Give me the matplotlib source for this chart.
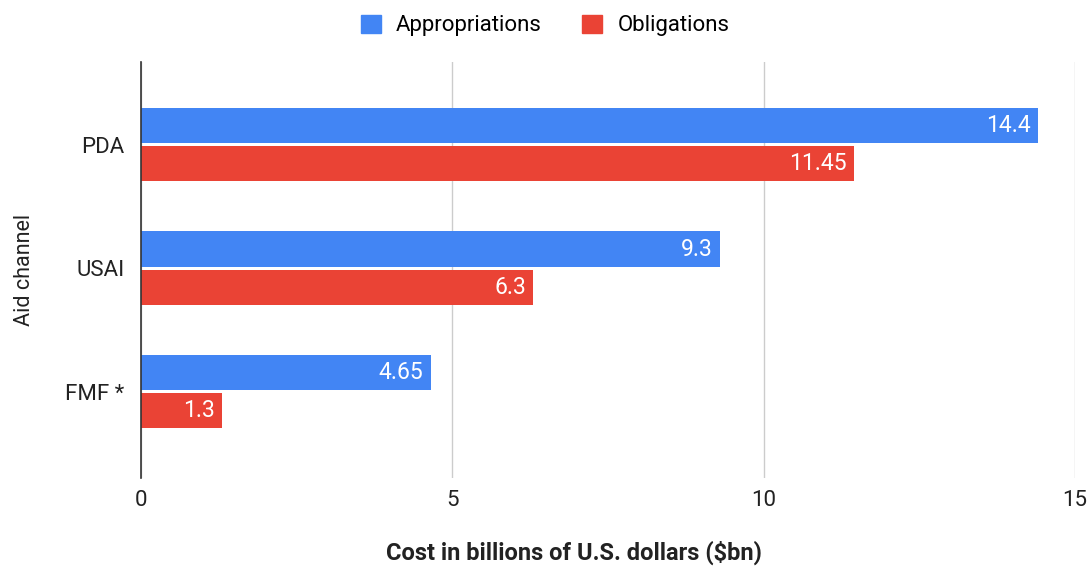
import numpy as np
import matplotlib.pyplot as plt
from matplotlib.patches import Patch

plt.rcParams['font.family'] = ['Roboto', 'DejaVu Sans']

channels = ["PDA", "USAI", "FMF *"]
appropriations = [14.4, 9.3, 4.65]
obligations = [11.45, 6.3, 1.3]
appr_labels = ["14.4", "9.3", "4.65"]
oblig_labels = ["11.45", "6.3", "1.3"]

blue = "#4285F4"
red = "#EA4335"

fig = plt.figure(figsize=(10.9, 5.67), dpi=100)
ax = fig.add_axes([0.1294, 0.157, 0.857, 0.734])

y = np.arange(len(channels))
h = 0.285
ax.barh(y - 0.155, appropriations, height=h, color=blue, zorder=3)
ax.barh(y + 0.155, obligations, height=h, color=red, zorder=3)

for yi, v, s in zip(y, appropriations, appr_labels):
    ax.text(v - 0.12, yi - 0.155, s, color="white", fontsize=16.5,
            ha="right", va="center", zorder=4)
for yi, v, s in zip(y, obligations, oblig_labels):
    ax.text(v - 0.12, yi + 0.155, s, color="white", fontsize=16.5,
            ha="right", va="center", zorder=4)

ax.set_xlim(0, 15)
ax.set_ylim(2.70, -0.672)
ax.set_xticks([0, 5, 10, 15])
ax.set_yticks(y)
ax.set_yticklabels(channels)
ax.tick_params(axis="both", length=0, labelsize=16, colors="#222222")
ax.tick_params(axis="x", pad=9)
ax.tick_params(axis="y", pad=12)
ax.grid(axis="x", color="#cccccc", linewidth=1, zorder=0)
for side in ["top", "right", "bottom"]:
    ax.spines[side].set_visible(False)
ax.spines["left"].set_color("#333333")
ax.spines["left"].set_linewidth(1.2)
ax.spines["left"].set_zorder(5)

# x axis title sits well below the tick labels
fig.text(0.527, 0.025, "Cost in billions of U.S. dollars ($bn)", fontsize=17,
         fontweight="bold", color="#222222", ha="center", va="center")
ax.set_ylabel("Aid channel", fontsize=15.5, color="#222222", labelpad=22)

handles = [Patch(color=blue, label="Appropriations"),
           Patch(color=red, label="Obligations")]
fig.legend(handles=handles, loc="center", bbox_to_anchor=(0.5, 0.955),
           ncol=2, frameon=False, fontsize=16, handlelength=0.9,
           handleheight=0.9, columnspacing=1.8, handletextpad=0.7)

fig.savefig("out.png", dpi=100, facecolor="white")
